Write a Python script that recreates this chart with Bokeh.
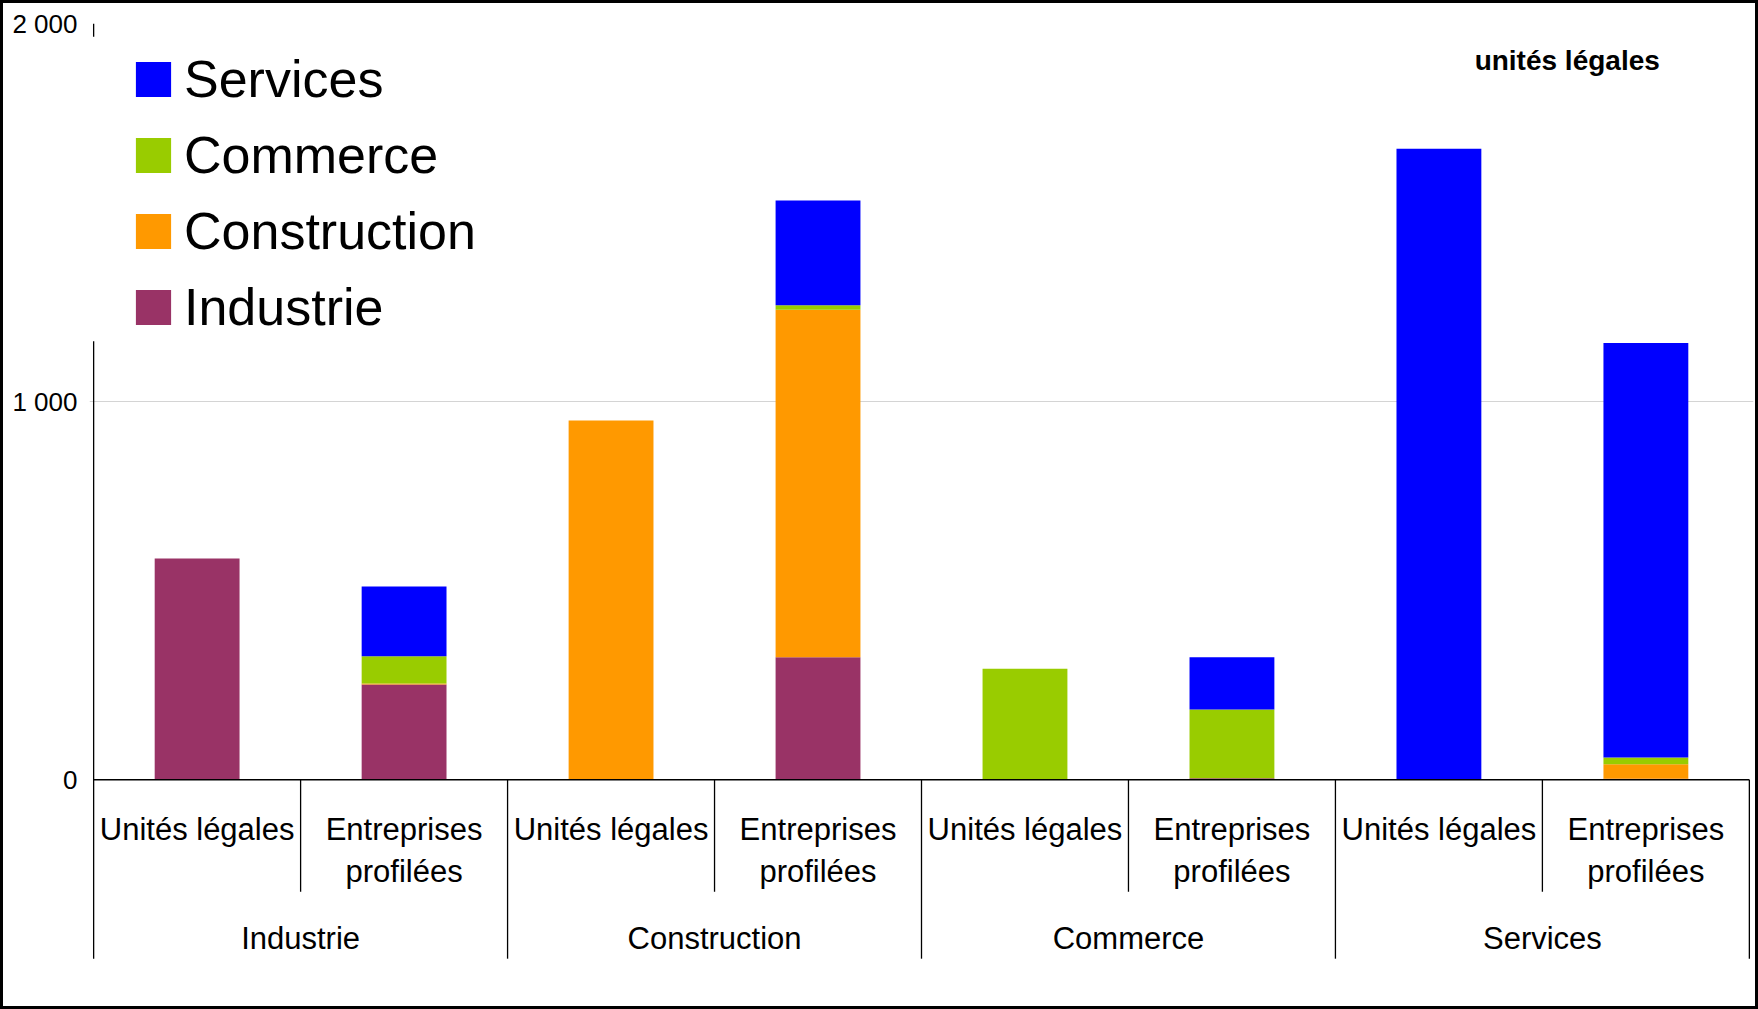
from bokeh.plotting import figure
from bokeh.models import (ColumnDataSource, FixedTicker, Legend, LegendItem,
                          Range1d, Label, BoxAnnotation)
from bokeh.core.properties import value
from bokeh.embed import file_html
from bokeh.resources import INLINE

# ---------------- data ----------------
groups = ["Industrie", "Construction", "Commerce", "Services"]
subcats = ["Unités légales", "Entreprises\nprofilées"]
series = ["Industrie", "Construction", "Commerce", "Services"]
colors = ["#993366", "#FF9900", "#99CC00", "#0000FF"]
# one value per bar: (Industrie UL, Industrie EP, Construction UL, Construction EP,
#                     Commerce UL, Commerce EP, Services UL, Services EP)
industrie = [585, 252, 0, 324, 0, 4, 0, 3]
construction = [0, 3, 950, 919, 0, 0, 0, 38]
commerce = [0, 72, 0, 12, 294, 182, 0, 18]
services = [0, 184, 0, 277, 0, 138, 1669, 1096]
y_ticks = [0, 1000, 2000]
y_tick_labels = ["0", "1 000", "2 000"]
unit_label = "unités légales"

FONT = "Liberation Sans"

n_bars = len(groups) * len(subcats)
xs = [i + 0.5 for i in range(n_bars)]
src = ColumnDataSource(dict(x=xs, Industrie=industrie, Construction=construction,
                            Commerce=commerce, Services=services))

p = figure(width=1758, height=1009, output_backend="svg", toolbar_location=None,
           x_range=Range1d(-0.02, n_bars + 0.02), y_range=Range1d(-610, 2000),
           min_border_left=86, min_border_right=8, min_border_top=20, min_border_bottom=2)
p.styles = {"border": "3px solid black", "box-sizing": "border-box"}
p.outline_line_color = None
p.background_fill_color = "white"
p.border_fill_color = "white"
p.xaxis.visible = False
p.xgrid.visible = False

p.ygrid.ticker = FixedTicker(ticks=y_ticks[1:])
p.ygrid.grid_line_color = "#d4d4d4"
p.ygrid.grid_line_width = 1.2

ax = p.yaxis[0]
ax.ticker = FixedTicker(ticks=y_ticks)
ax.major_label_overrides = {t: l for t, l in zip(y_ticks, y_tick_labels)}
ax.axis_line_color = None
ax.major_tick_line_color = None
ax.major_tick_out = 0
ax.major_tick_in = 0
ax.minor_tick_line_color = None
ax.minor_tick_out = 0
ax.major_label_standoff = 12
ax.major_label_text_font = FONT
ax.major_label_text_font_size = "26px"
ax.major_label_text_color = "black"

# stacked bars
rends = p.vbar_stack(series, x="x", width=0.41, color=colors, line_color=None, source=src)

# separators and axis lines
x0, y0, x1, y1 = [], [], [], []
for i in range(n_bars + 1):
    x0.append(i); x1.append(i)
    y0.append(2000 if i == 0 else 0)
    y1.append(-473 if i % len(subcats) == 0 else -296)
p.segment(x0=x0, y0=y0, x1=x1, y1=y1, line_color="black", line_width=1.3)
p.segment(x0=[0], y0=[0], x1=[n_bars], y1=[0], line_color="black", line_width=1.6)

# white legend background covering the axis line
p.add_layout(BoxAnnotation(left=-0.05, right=1.5, bottom=1160, top=1965,
                           fill_color="white", fill_alpha=1, line_color=None, level="glyph"))

# sub-category labels
sub_labels = [subcats[i % len(subcats)] for i in range(n_bars)]
p.text(x=xs, y=[-85] * n_bars, text=sub_labels, text_align="center", text_baseline="top",
       text_font=value(FONT), text_font_size="31px", text_color="black", text_line_height=1.19)
# group labels
gx = [i * len(subcats) + len(subcats) / 2 for i in range(len(groups))]
p.text(x=gx, y=[-420] * len(groups), text=groups, text_align="center", text_baseline="middle",
       text_font=value(FONT), text_font_size="31px", text_color="black")

p.add_layout(Label(x=7.12, y=1903, text=unit_label, text_align="center", text_baseline="middle",
                   text_font=FONT, text_font_size="28px", text_font_style="bold",
                   text_color="black"))

items = [LegendItem(label=s, renderers=[r]) for s, r in zip(series, rends)][::-1]
legend = Legend(items=items, location=(42, 673), padding=10, spacing=16,
                glyph_width=44, glyph_height=44, label_standoff=9,
                label_text_font=FONT, label_text_font_size="52px", label_text_color="black",
                border_line_color=None, background_fill_color="white",
                background_fill_alpha=1.0)
p.add_layout(legend)

open("out.html", "w").write(file_html(p, INLINE))
